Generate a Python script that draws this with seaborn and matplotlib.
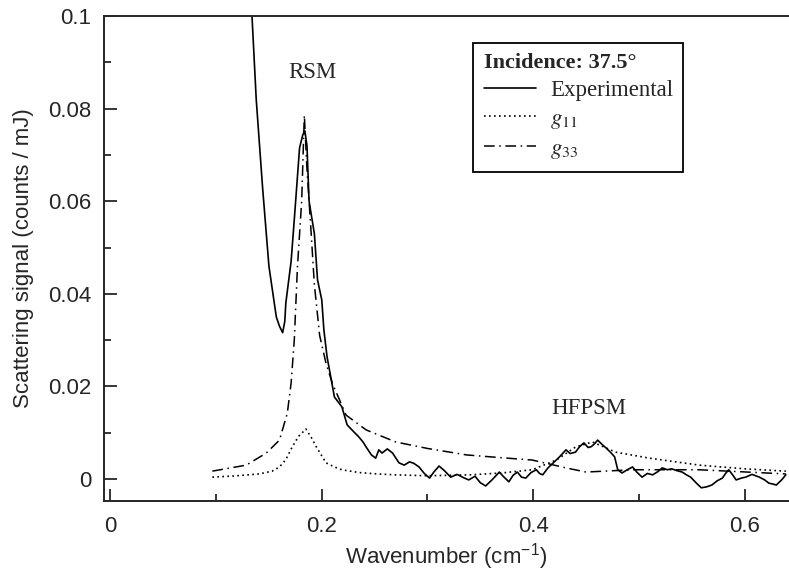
"""Rayleigh / HFPSM scattering spectrum at 37.5 deg incidence."""

import matplotlib

matplotlib.use("Agg")
import matplotlib.pyplot as plt  # noqa: E402
import seaborn as sns  # noqa: E402
from matplotlib.ticker import FixedLocator, MultipleLocator  # noqa: E402

exp_x = [0.134, 0.138, 0.144, 0.150, 0.157, 0.160, 0.163, 0.165, 0.166, 0.171,
         0.174, 0.179, 0.182, 0.184, 0.186, 0.188, 0.193, 0.196, 0.200, 0.202,
         0.205, 0.212, 0.219, 0.224, 0.229, 0.235, 0.239, 0.242, 0.247, 0.251,
         0.254, 0.257, 0.262, 0.267, 0.273, 0.278, 0.283, 0.287, 0.292, 0.297,
         0.302, 0.306, 0.311, 0.316, 0.322, 0.328, 0.334, 0.339, 0.345, 0.350,
         0.355, 0.361, 0.368, 0.372, 0.377, 0.381, 0.385, 0.389, 0.393, 0.398,
         0.403, 0.406, 0.409, 0.414, 0.420, 0.425, 0.431, 0.435, 0.440, 0.444,
         0.448, 0.452, 0.455, 0.458, 0.461, 0.465, 0.469, 0.473, 0.477, 0.480,
         0.484, 0.489, 0.494, 0.498, 0.503, 0.508, 0.513, 0.518, 0.522, 0.527,
         0.531, 0.536, 0.541, 0.545, 0.549, 0.554, 0.559, 0.564, 0.569, 0.574,
         0.579, 0.582, 0.585, 0.589, 0.592, 0.597, 0.601, 0.607, 0.614, 0.619,
         0.623, 0.627, 0.630, 0.635, 0.639]
exp_y = [0.1000, 0.0820, 0.0630, 0.0460, 0.0350, 0.0330, 0.0316, 0.0340, 0.0380, 0.0470,
         0.0560, 0.0715, 0.0743, 0.0752, 0.0720, 0.0600, 0.0530, 0.0430, 0.0387, 0.0322,
         0.0264, 0.0177, 0.0156, 0.0117, 0.0105, 0.0091, 0.0080, 0.0069, 0.0052, 0.0045,
         0.0063, 0.0056, 0.0065, 0.0056, 0.0035, 0.0030, 0.0037, 0.0034, 0.0026, 0.0012,
         0.0002, 0.0015, 0.0028, 0.0018, 0.0004, 0.0010, 0.0003, -0.0002, 0.0006, -0.0008,
         -0.0015, -0.0002, 0.0015, 0.0005, -0.0006, 0.0008, 0.0015, 0.0004, 0.0002, 0.0014,
         0.0020, 0.0012, 0.0009, 0.0024, 0.0037, 0.0048, 0.0063, 0.0055, 0.0058, 0.0070,
         0.0078, 0.0068, 0.0070, 0.0076, 0.0084, 0.0075, 0.0067, 0.0058, 0.0048, 0.0020,
         0.0013, 0.0020, 0.0026, 0.0015, 0.0004, 0.0012, 0.0009, 0.0016, 0.0024, 0.0020,
         0.0022, 0.0018, 0.0015, 0.0009, 0.0004, -0.0008, -0.0019, -0.0017, -0.0013, -0.0004,
         0.0002, 0.0012, 0.0020, 0.0008, -0.0002, 0.0002, 0.0004, 0.0010, 0.0004, -0.0002,
         -0.0009, -0.0011, -0.0013, -0.0002, 0.0009]

# g11 model
g11_x = [0.0965, 0.120, 0.141, 0.153, 0.160, 0.166, 0.172, 0.178, 0.185, 0.190,
         0.195, 0.204, 0.212, 0.219, 0.235, 0.252, 0.270, 0.300, 0.340, 0.370,
         0.399, 0.422, 0.440, 0.456, 0.478, 0.510, 0.557, 0.600, 0.639]
g11_y = [0.0004, 0.0007, 0.0011, 0.0017, 0.0026, 0.0042, 0.0069, 0.0092, 0.0108, 0.0090,
         0.0069, 0.0035, 0.0026, 0.0020, 0.0014, 0.0011, 0.0009, 0.0007, 0.0009, 0.0013,
         0.0020, 0.0041, 0.0069, 0.0080, 0.0058, 0.0045, 0.0030, 0.0022, 0.0017]

# g33 model
g33_x = [0.0965, 0.1286, 0.1475, 0.160, 0.1674, 0.171, 0.174, 0.177, 0.181, 0.1835,
         0.186, 0.190, 0.193, 0.198, 0.204, 0.210, 0.223, 0.242, 0.270, 0.300,
         0.337, 0.370, 0.399, 0.431, 0.450, 0.494, 0.557, 0.639]
g33_y = [0.0017, 0.0030, 0.0056, 0.0084, 0.0142, 0.0207, 0.0300, 0.0458, 0.0600, 0.0786,
         0.0670, 0.0530, 0.0420, 0.0310, 0.0250, 0.0207, 0.0138, 0.0106, 0.0080, 0.0066,
         0.0052, 0.0046, 0.0041, 0.0024, 0.0015, 0.0020, 0.0020, 0.0011]

y_ticks = [0, 0.02, 0.04, 0.06, 0.08, 0.1]
x_ticks = [0, 0.2, 0.4, 0.6]

SANS = ["Liberation Sans", "DejaVu Sans"]
SERIF = ["Liberation Serif", "DejaVu Serif"]


def main() -> None:
    sns.set_style("ticks")
    plt.rcParams["font.family"] = SANS
    plt.rcParams["mathtext.fontset"] = "stix"

    fig = plt.figure(figsize=(7.89, 5.76), dpi=100)
    ax = fig.add_axes([104 / 789, 75 / 576, 685 / 789, 485 / 576])

    sns.lineplot(x=exp_x, y=exp_y, ax=ax, color="black", lw=1.2,
                 sort=False, label="Experimental")
    sns.lineplot(x=g11_x, y=g11_y, ax=ax, color="black", lw=1.2,
                 linestyle=(0, (1, 2)), sort=False, label="$g_{11}$")
    sns.lineplot(x=g33_x, y=g33_y, ax=ax, color="black", lw=1.1,
                 linestyle=(0, (7, 3, 1, 3)), sort=False, label="$g_{33}$")

    ax.set_xlim(-0.006, 0.642)
    ax.set_ylim(-0.00475, 0.1)
    ax.xaxis.set_major_locator(FixedLocator(x_ticks))
    ax.yaxis.set_major_locator(FixedLocator(y_ticks))
    ax.set_xticklabels([f"{v:g}" for v in x_ticks])
    ax.set_yticklabels([f"{v:g}" for v in y_ticks])
    ax.xaxis.set_minor_locator(MultipleLocator(0.1))
    ax.yaxis.set_minor_locator(MultipleLocator(0.01))
    ax.tick_params(which="both", direction="in", width=1.3, labelsize=16,
                   top=False, right=False)
    ax.tick_params(which="major", length=9)
    ax.tick_params(which="minor", length=5)
    ax.tick_params(axis="x", which="major", pad=11)
    ax.tick_params(axis="y", which="major", pad=9)
    for side in ("left", "bottom", "top"):
        ax.spines[side].set_linewidth(1.4)
    ax.spines["right"].set_visible(False)

    ax.set_xlabel("Wavenumber (cm$^{\\mathregular{-1}}$)", fontsize=16, labelpad=3)
    ax.set_ylabel("Scattering signal (counts / mJ)", fontsize=16, labelpad=10)

    ax.text(0.191, 0.0877, "RSM", family=SERIF, fontsize=16.5,
            ha="center", va="center")
    ax.text(0.453, 0.0153, "HFPSM", family=SERIF, fontsize=16.5,
            ha="center", va="center")

    leg = ax.legend(loc="upper left", bbox_to_anchor=(0.539, 0.944),
                    borderaxespad=0, title="Incidence: 37.5°",
                    alignment="left", frameon=True, fancybox=False,
                    prop={"family": SERIF, "size": 16.5},
                    title_fontproperties={"family": SERIF, "size": 16,
                                          "weight": "bold"},
                    handlelength=2.3, handletextpad=0.6, labelspacing=0.3,
                    borderpad=0.45)
    leg.get_frame().set_edgecolor("black")
    leg.get_frame().set_linewidth(1.3)
    leg.get_frame().set_alpha(1)

    fig.savefig("out.png", dpi=100)
    plt.close(fig)


if __name__ == "__main__":
    main()
